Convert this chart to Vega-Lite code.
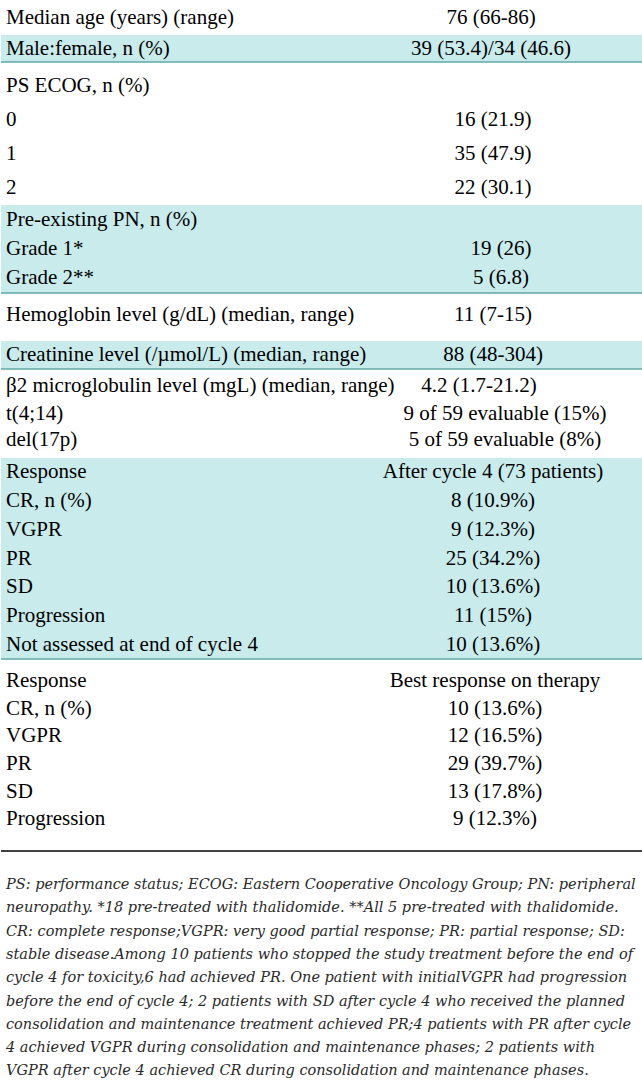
{
  "$schema": "https://vega.github.io/schema/vega-lite/v6.json",
  "padding": 0,
  "spacing": 0,
  "background": "white",
  "resolve": {"scale": {"x": "independent", "y": "independent"}},
  "config": {
    "view": {"stroke": null},
    "concat": {"spacing": 0},
    "text": {"font": "Liberation Serif", "fontSize": 21, "color": "#000000", "baseline": "middle"}
  },
  "vconcat": [
    {
      "width": 642, "height": 35,
      "data": {"values": [{"label": "Median age (years) (range)", "value": "76 (66-86)"}]},
      "layer": [
        {"mark": {"type": "text", "align": "left"},
         "encoding": {"y": {"field": "label", "type": "nominal", "sort": null, "axis": null, "scale": {"type": "point", "padding": 0.5}},
                      "x": {"datum": "label", "type": "nominal", "axis": null, "scale": {"type": "point", "padding": 0, "domain": ["label", "value"], "range": [5, 490]}},
                      "text": {"field": "label"}}},
        {"mark": {"type": "text", "align": "center"},
         "encoding": {"y": {"field": "label", "type": "nominal", "sort": null, "axis": null},
                      "x": {"datum": "value", "type": "nominal", "axis": null},
                      "text": {"field": "value"}}}
      ]
    },
    {
      "width": 642, "height": 27,
      "view": {"fill": "#c9ebec", "stroke": null},
      "data": {"values": [{"label": "Male:female, n (%)", "value": "39 (53.4)/34 (46.6)"}]},
      "layer": [
        {"mark": {"type": "text", "align": "left"},
         "encoding": {"y": {"field": "label", "type": "nominal", "sort": null, "axis": null, "scale": {"type": "point", "padding": 0.5}},
                      "x": {"datum": "label", "type": "nominal", "axis": null, "scale": {"type": "point", "padding": 0, "domain": ["label", "value"], "range": [5, 490]}},
                      "text": {"field": "label"}}},
        {"mark": {"type": "text", "align": "center"},
         "encoding": {"y": {"field": "label", "type": "nominal", "sort": null, "axis": null},
                      "x": {"datum": "value", "type": "nominal", "axis": null},
                      "text": {"field": "value"}}},
        {"data": {"values": [{"edge": "bottom"}]},
         "mark": {"type": "rule", "color": "#5fa8a9", "strokeWidth": 1.5},
         "encoding": {"y": {"value": "height"}}}
      ]
    },
    {
      "width": 642, "height": 142,
      "data": {"values": [
        {"label": "PS ECOG, n (%)", "value": ""},
        {"label": "0", "value": "16 (21.9)"},
        {"label": "1", "value": "35 (47.9)"},
        {"label": "2", "value": "22 (30.1)"}
      ]},
      "layer": [
        {"mark": {"type": "text", "align": "left"},
         "encoding": {"y": {"field": "label", "type": "nominal", "sort": null, "axis": null, "scale": {"type": "point", "padding": 0.59, "align": 0.575}},
                      "x": {"datum": "label", "type": "nominal", "axis": null, "scale": {"type": "point", "padding": 0, "domain": ["label", "value"], "range": [5, 492]}},
                      "text": {"field": "label"}}},
        {"mark": {"type": "text", "align": "center"},
         "encoding": {"y": {"field": "label", "type": "nominal", "sort": null, "axis": null},
                      "x": {"datum": "value", "type": "nominal", "axis": null},
                      "text": {"field": "value"}}}
      ]
    },
    {
      "width": 642, "height": 88,
      "view": {"fill": "#c9ebec", "stroke": null},
      "data": {"values": [
        {"label": "Pre-existing PN, n (%)", "value": ""},
        {"label": "Grade 1*", "value": "19 (26)"},
        {"label": "Grade 2**", "value": "5 (6.8)"}
      ]},
      "layer": [
        {"mark": {"type": "text", "align": "left"},
         "encoding": {"y": {"field": "label", "type": "nominal", "sort": null, "axis": null, "scale": {"type": "point", "padding": 0.5}},
                      "x": {"datum": "label", "type": "nominal", "axis": null, "scale": {"type": "point", "padding": 0, "domain": ["label", "value"], "range": [5, 500]}},
                      "text": {"field": "label"}}},
        {"mark": {"type": "text", "align": "center"},
         "encoding": {"y": {"field": "label", "type": "nominal", "sort": null, "axis": null},
                      "x": {"datum": "value", "type": "nominal", "axis": null},
                      "text": {"field": "value"}}},
        {"data": {"values": [{"edge": "bottom"}]},
         "mark": {"type": "rule", "color": "#5fa8a9", "strokeWidth": 1.5},
         "encoding": {"y": {"value": "height"}}}
      ]
    },
    {
      "width": 642, "height": 47,
      "data": {"values": [{"label": "Hemoglobin level (g/dL) (median, range)", "value": "11 (7-15)"}]},
      "layer": [
        {"mark": {"type": "text", "align": "left"},
         "encoding": {"y": {"field": "label", "type": "nominal", "sort": null, "axis": null, "scale": {"type": "point", "padding": 0.5, "align": 0.45}},
                      "x": {"datum": "label", "type": "nominal", "axis": null, "scale": {"type": "point", "padding": 0, "domain": ["label", "value"], "range": [5, 492]}},
                      "text": {"field": "label"}}},
        {"mark": {"type": "text", "align": "center"},
         "encoding": {"y": {"field": "label", "type": "nominal", "sort": null, "axis": null},
                      "x": {"datum": "value", "type": "nominal", "axis": null},
                      "text": {"field": "value"}}}
      ]
    },
    {
      "width": 642, "height": 28,
      "view": {"fill": "#c9ebec", "stroke": null},
      "data": {"values": [{"label": "Creatinine level (/µmol/L) (median, range)", "value": "88 (48-304)"}]},
      "layer": [
        {"mark": {"type": "text", "align": "left"},
         "encoding": {"y": {"field": "label", "type": "nominal", "sort": null, "axis": null, "scale": {"type": "point", "padding": 0.5}},
                      "x": {"datum": "label", "type": "nominal", "axis": null, "scale": {"type": "point", "padding": 0, "domain": ["label", "value"], "range": [5, 492]}},
                      "text": {"field": "label"}}},
        {"mark": {"type": "text", "align": "center"},
         "encoding": {"y": {"field": "label", "type": "nominal", "sort": null, "axis": null},
                      "x": {"datum": "value", "type": "nominal", "axis": null},
                      "text": {"field": "value"}}},
        {"data": {"values": [{"edge": "bottom"}]},
         "mark": {"type": "rule", "color": "#5fa8a9", "strokeWidth": 1.5},
         "encoding": {"y": {"value": "height"}}}
      ]
    },
    {
      "width": 642, "height": 31,
      "data": {"values": [
        {"label": "β2  microglobulin level (mgL) (median, range)", "value": "4.2 (1.7-21.2)"}
      ]},
      "layer": [
        {"mark": {"type": "text", "align": "left"},
         "encoding": {"y": {"field": "label", "type": "nominal", "sort": null, "axis": null, "scale": {"type": "point", "padding": 0.5}},
                      "x": {"datum": "label", "type": "nominal", "axis": null, "scale": {"type": "point", "padding": 0, "domain": ["label", "value"], "range": [5, 478]}},
                      "text": {"field": "label"}}},
        {"mark": {"type": "text", "align": "center"},
         "encoding": {"y": {"field": "label", "type": "nominal", "sort": null, "axis": null},
                      "x": {"datum": "value", "type": "nominal", "axis": null},
                      "text": {"field": "value"}}}
      ]
    },
    {
      "width": 642, "height": 57,
      "data": {"values": [
        {"label": "t(4;14)", "value": "9 of 59 evaluable (15%)"},
        {"label": "del(17p)", "value": "5 of 59 evaluable (8%)"}
      ]},
      "layer": [
        {"mark": {"type": "text", "align": "left"},
         "encoding": {"y": {"field": "label", "type": "nominal", "sort": null, "axis": null, "scale": {"type": "point", "padding": 0.6, "align": 0.42}},
                      "x": {"datum": "label", "type": "nominal", "axis": null, "scale": {"type": "point", "padding": 0, "domain": ["label", "value"], "range": [5, 504]}},
                      "text": {"field": "label"}}},
        {"mark": {"type": "text", "align": "center"},
         "encoding": {"y": {"field": "label", "type": "nominal", "sort": null, "axis": null},
                      "x": {"datum": "value", "type": "nominal", "axis": null},
                      "text": {"field": "value"}}}
      ]
    },
    {
      "width": 642, "height": 201,
      "view": {"fill": "#c9ebec", "stroke": null},
      "data": {"values": [
        {"label": "Response", "value": "After cycle 4 (73 patients)"},
        {"label": "CR, n (%)", "value": "8 (10.9%)"},
        {"label": "VGPR", "value": "9 (12.3%)"},
        {"label": "PR", "value": "25 (34.2%)"},
        {"label": "SD", "value": "10 (13.6%)"},
        {"label": "Progression", "value": "11 (15%)"},
        {"label": "Not assessed at end of cycle 4", "value": "10 (13.6%)"}
      ]},
      "layer": [
        {"mark": {"type": "text", "align": "left"},
         "encoding": {"y": {"field": "label", "type": "nominal", "sort": null, "axis": null, "scale": {"type": "point", "padding": 0.5}},
                      "x": {"datum": "label", "type": "nominal", "axis": null, "scale": {"type": "point", "padding": 0, "domain": ["label", "value"], "range": [5, 492]}},
                      "text": {"field": "label"}}},
        {"mark": {"type": "text", "align": "center"},
         "encoding": {"y": {"field": "label", "type": "nominal", "sort": null, "axis": null},
                      "x": {"datum": "value", "type": "nominal", "axis": null},
                      "text": {"field": "value"}}},
        {"data": {"values": [{"edge": "bottom"}]},
         "mark": {"type": "rule", "color": "#5fa8a9", "strokeWidth": 1.5},
         "encoding": {"y": {"value": "height"}}}
      ]
    },
    {
      "width": 642, "height": 191,
      "data": {"values": [
        {"label": "Response", "value": "Best response on therapy"},
        {"label": "CR, n (%)", "value": "10 (13.6%)"},
        {"label": "VGPR", "value": "12 (16.5%)"},
        {"label": "PR", "value": "29 (39.7%)"},
        {"label": "SD", "value": "13 (17.8%)"},
        {"label": "Progression", "value": "9 (12.3%)"}
      ]},
      "layer": [
        {"mark": {"type": "text", "align": "left"},
         "encoding": {"y": {"field": "label", "type": "nominal", "sort": null, "axis": null, "scale": {"type": "point", "padding": 0.96, "align": 0.4}},
                      "x": {"datum": "label", "type": "nominal", "axis": null, "scale": {"type": "point", "padding": 0, "domain": ["label", "value"], "range": [5, 494]}},
                      "text": {"field": "label"}}},
        {"mark": {"type": "text", "align": "center"},
         "encoding": {"y": {"field": "label", "type": "nominal", "sort": null, "axis": null},
                      "x": {"datum": "value", "type": "nominal", "axis": null},
                      "text": {"field": "value"}}},
        {"data": {"values": [{"edge": "bottom"}]},
         "mark": {"type": "rule", "color": "#000000", "strokeWidth": 1.5},
         "encoding": {"y": {"value": "height"}}}
      ]
    },
    {
      "width": 642, "height": 233,
      "data": {"values": [
        {"line": "PS: performance status; ECOG: Eastern Cooperative Oncology Group; PN: peripheral"},
        {"line": "neuropathy. *18 pre-treated with thalidomide. **All 5 pre-treated with thalidomide."},
        {"line": "CR: complete response;VGPR: very good partial response; PR: partial response; SD:"},
        {"line": "stable disease.Among 10 patients who stopped the study treatment before the end of"},
        {"line": "cycle 4 for toxicity,6 had achieved PR. One patient with initialVGPR had progression"},
        {"line": "before the end of cycle 4; 2 patients with SD after cycle 4 who received the planned"},
        {"line": "consolidation and maintenance treatment achieved PR;4 patients with PR after cycle"},
        {"line": "4 achieved VGPR during consolidation and maintenance phases; 2 patients with"},
        {"line": "VGPR after cycle 4 achieved CR during consolidation and maintenance phases."}
      ]},
      "mark": {"type": "text", "align": "left", "font": "DejaVu Serif", "fontStyle": "italic", "fontSize": 14.5, "color": "#2a2a2a"},
      "encoding": {
        "y": {"field": "line", "type": "nominal", "sort": null, "axis": null, "scale": {"type": "point", "padding": 1.27, "align": 0.71}},
        "x": {"datum": "text", "type": "nominal", "axis": null, "scale": {"type": "point", "domain": ["text"], "range": [5, 5]}},
        "text": {"field": "line"}
      }
    }
  ]
}
